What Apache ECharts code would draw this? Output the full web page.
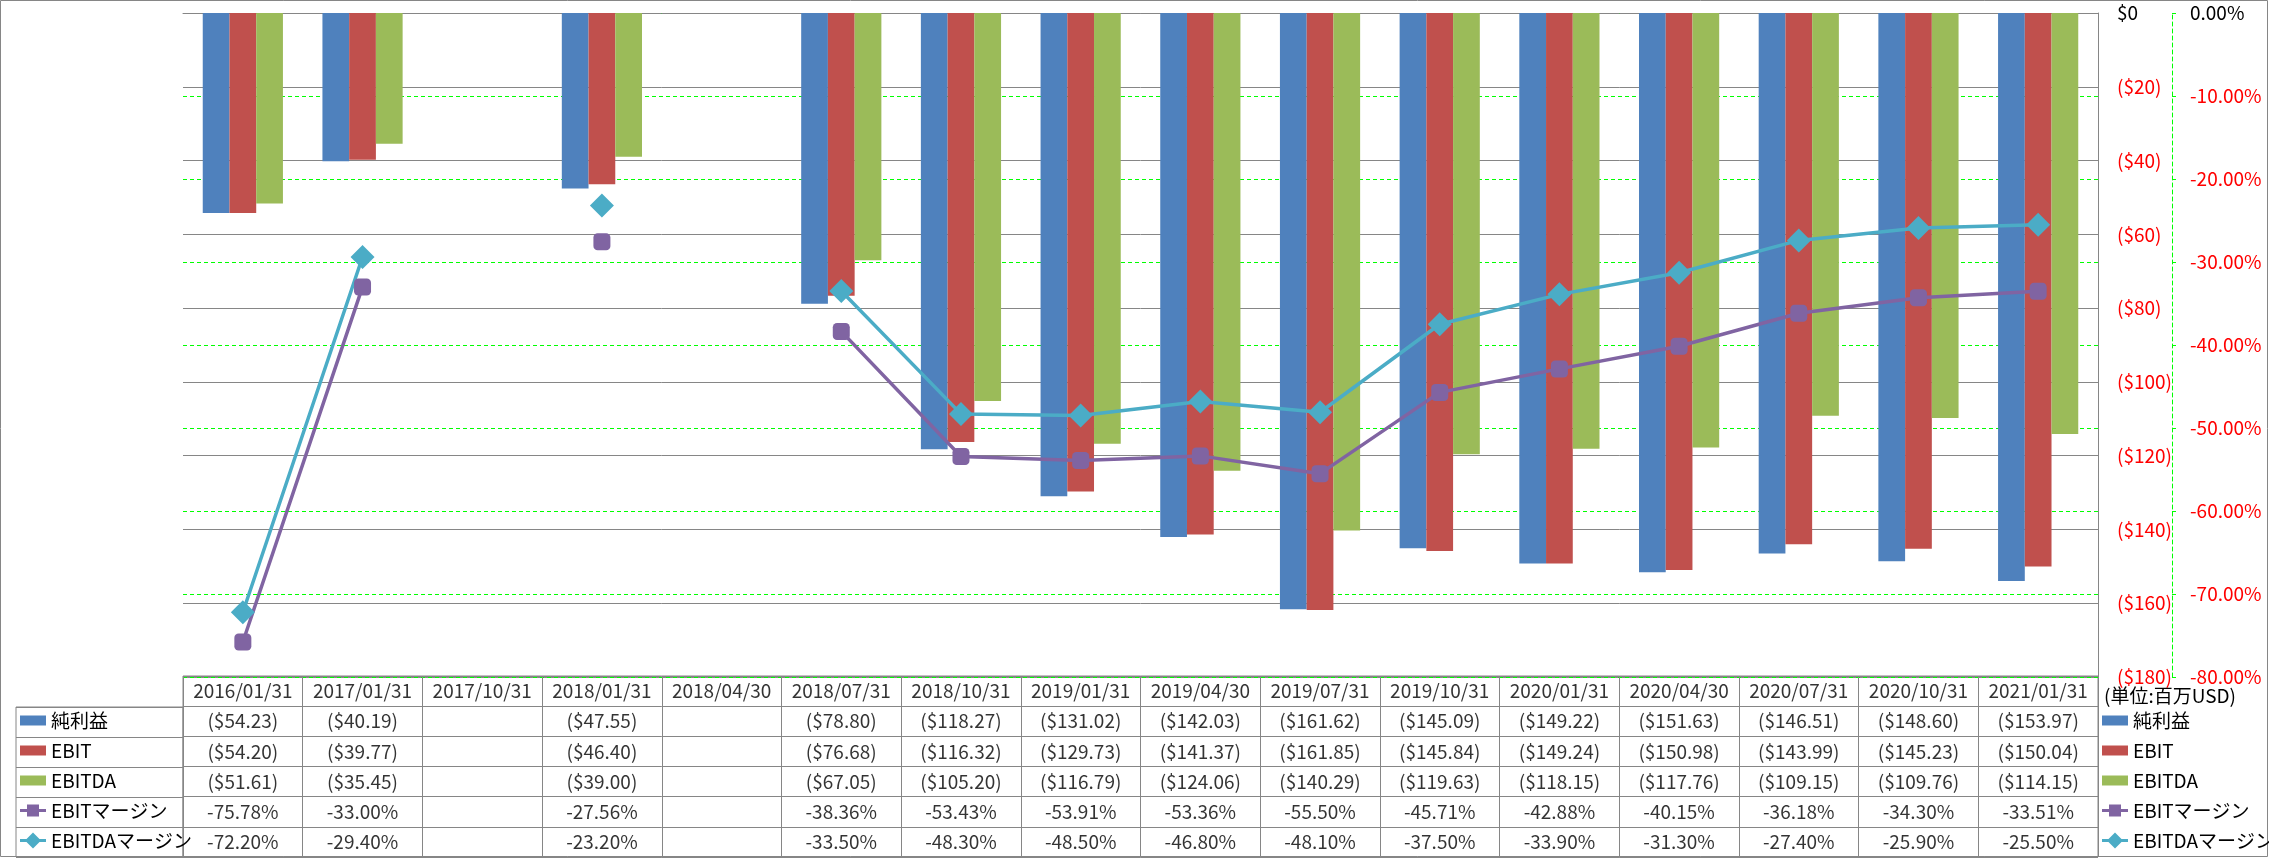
<!DOCTYPE html>
<html>
<head>
<meta charset="utf-8">
<script src="https://cdn.jsdelivr.net/npm/echarts@6/dist/echarts.min.js"></script>
<style>
  html, body { margin: 0; padding: 0; background: #fff; }
  #chart { width: 2269px; height: 858px; }
</style>
</head>
<body>
<div id="chart"></div>
<script>
// periods (fiscal quarter end)
const categories = ['2016/01/31', '2017/01/31', '2017/10/31', '2018/01/31', '2018/04/30', '2018/07/31',
  '2018/10/31', '2019/01/31', '2019/04/30', '2019/07/31', '2019/10/31', '2020/01/31', '2020/04/30',
  '2020/07/31', '2020/10/31', '2021/01/31'];

// millions USD
const netIncome = [-54.23, -40.19, null, -47.55, null, -78.80, -118.27, -131.02, -142.03, -161.62,
  -145.09, -149.22, -151.63, -146.51, -148.60, -153.97];
const ebit = [-54.20, -39.77, null, -46.40, null, -76.68, -116.32, -129.73, -141.37, -161.85,
  -145.84, -149.24, -150.98, -143.99, -145.23, -150.04];
const ebitda = [-51.61, -35.45, null, -39.00, null, -67.05, -105.20, -116.79, -124.06, -140.29,
  -119.63, -118.15, -117.76, -109.15, -109.76, -114.15];

// percent
const ebitMargin = [-75.78, -33.00, null, -27.56, null, -38.36, -53.43, -53.91, -53.36, -55.50,
  -45.71, -42.88, -40.15, -36.18, -34.30, -33.51];
const ebitdaMargin = [-72.20, -29.40, null, -23.20, null, -33.50, -48.30, -48.50, -46.80, -48.10,
  -37.50, -33.90, -31.30, -27.40, -25.90, -25.50];

const seriesNames = ['純利益', 'EBIT', 'EBITDA', 'EBITマージン', 'EBITDAマージン'];
const unitText = '(単位:百万USD)';

const FONT = '"Liberation Sans Narrow", "Noto Sans CJK JP", sans-serif';
const GRAY = '#868686';
const RED = '#FF0000';
const GREEN = '#00FF00';

function money(v) { return v == null ? '' : '($' + Math.abs(v).toFixed(2) + ')'; }
function pct(v) { return v == null ? '' : v.toFixed(2) + '%'; }

// cells of the data table: [column, row, text]
const cells = [];
categories.forEach(function (c, i) {
  cells.push([i, 0, c]);
  cells.push([i, 1, money(netIncome[i])]);
  cells.push([i, 2, money(ebit[i])]);
  cells.push([i, 3, money(ebitda[i])]);
  cells.push([i, 4, pct(ebitMargin[i])]);
  cells.push([i, 5, pct(ebitdaMargin[i])]);
});

// legend keys: plain box for bars, thick line + marker for the margin lines
const barKey = 'path://M0,0H26V10H0Z';
const squareKey = 'path://M0,5.5H7V1H19V5.5H26V8.5H19V13H7V8.5H0Z';
const diamondKey = 'path://M0,5.5H6.5L13,-1L19.5,5.5H26V8.5H19.5L13,15L6.5,8.5H0Z';
const legendData = [
  { name: seriesNames[0], icon: barKey },
  { name: seriesNames[1], icon: barKey },
  { name: seriesNames[2], icon: barKey },
  { name: seriesNames[3], icon: squareKey },
  { name: seriesNames[4], icon: diamondKey }
];
const legendBase = {
  orient: 'vertical',
  top: 710,
  padding: 0,
  itemWidth: 26,
  itemHeight: 16,
  itemGap: 9,
  selectedMode: false,
  textStyle: { fontFamily: FONT, fontSize: 19, color: '#000', lineHeight: 21 },
  data: legendData
};

const chart = echarts.init(document.getElementById('chart'));
chart.setOption({
  animation: false,
  color: ['#4F81BD', '#C0504D', '#9BBB59', '#8064A2', '#4BACC6'],
  textStyle: { fontFamily: FONT },
  title: {
    text: unitText,
    left: 2104,
    top: 686,
    padding: 0,
    textStyle: { fontFamily: FONT, fontSize: 19, fontWeight: 'normal', color: '#000' }
  },
  legend: [
    Object.assign({ left: 20 }, legendBase),
    Object.assign({ left: 2102 }, legendBase)
  ],
  graphic: [{
    type: 'rect',
    silent: true,
    shape: { x: 0.5, y: 0.5, width: 2267, height: 856 },
    style: { fill: 'none', stroke: GRAY, lineWidth: 1 }
  }],
  grid: [
    { left: 183, right: 171, top: 13, bottom: 181, outerBoundsMode: 'none' },
    { left: 183, right: 171, top: 676, height: 181, show: true, borderColor: GRAY, borderWidth: 1, outerBoundsMode: 'none' },
    { left: 16, width: 167, top: 707, height: 150, show: true, borderColor: GRAY, borderWidth: 1, outerBoundsMode: 'none' }
  ],
  xAxis: [
    {
      type: 'category', gridIndex: 0, data: categories,
      axisLine: { show: true, onZero: true, lineStyle: { color: GRAY } },
      axisTick: { show: false }, axisLabel: { show: false }
    },
    {
      type: 'category', gridIndex: 1, data: categories,
      axisLine: { show: false }, axisTick: { show: false }, axisLabel: { show: false },
      splitLine: { show: true, interval: 0, lineStyle: { color: GRAY } }
    },
    {
      type: 'category', gridIndex: 2, data: [''],
      axisLine: { show: false }, axisTick: { show: false }, axisLabel: { show: false }
    }
  ],
  yAxis: [
    {
      type: 'value', gridIndex: 0, position: 'right', min: -180, max: 0, interval: 20,
      axisLine: { show: true, lineStyle: { color: GRAY } },
      axisTick: { show: false },
      splitLine: { show: true, lineStyle: { color: GRAY, width: 1 } },
      axisLabel: {
        margin: 19, fontSize: 19, fontFamily: FONT,
        color: function (v) { return Number(v) === 0 ? '#000' : RED; },
        formatter: function (v) { return v === 0 ? '$0' : '($' + Math.abs(v) + ')'; }
      }
    },
    {
      type: 'value', gridIndex: 0, position: 'right', offset: 74, min: -80, max: 0, interval: 10,
      axisLine: { show: true, lineStyle: { color: GREEN, type: [4, 3] } },
      axisTick: { show: true, length: 4, lineStyle: { color: GREEN } },
      splitLine: { show: true, lineStyle: { color: GREEN, type: [4, 3], width: 1 } },
      axisLabel: {
        margin: 18, fontSize: 19, fontFamily: FONT,
        color: function (v) { return Number(v) === 0 ? '#000' : RED; },
        formatter: function (v) { return v.toFixed(2) + '%'; }
      }
    },
    {
      type: 'category', gridIndex: 1, inverse: true, data: [0, 1, 2, 3, 4, 5],
      axisLine: { show: false }, axisTick: { show: false }, axisLabel: { show: false },
      splitLine: { show: true, interval: 0, lineStyle: { color: GRAY } }
    },
    {
      type: 'category', gridIndex: 2, inverse: true, data: [1, 2, 3, 4, 5],
      axisLine: { show: false }, axisTick: { show: false }, axisLabel: { show: false },
      splitLine: { show: true, interval: 0, lineStyle: { color: GRAY } }
    }
  ],
  series: [
    { name: seriesNames[0], type: 'bar', data: netIncome, barGap: '0%', barCategoryGap: '33%' },
    { name: seriesNames[1], type: 'bar', data: ebit, barGap: '0%', barCategoryGap: '33%' },
    { name: seriesNames[2], type: 'bar', data: ebitda, barGap: '0%', barCategoryGap: '33%' },
    {
      name: seriesNames[3], type: 'line', yAxisIndex: 1, data: ebitMargin,
      symbol: 'roundRect', symbolSize: 17, showAllSymbol: true,
      lineStyle: { width: 3.5 }
    },
    {
      name: seriesNames[4], type: 'line', yAxisIndex: 1, data: ebitdaMargin,
      symbol: 'diamond', symbolSize: 24, showAllSymbol: true,
      lineStyle: { width: 3.5 }
    },
    {
      type: 'scatter', xAxisIndex: 1, yAxisIndex: 2, data: cells,
      silent: true, symbolSize: 1,
      itemStyle: { color: 'transparent' },
      label: {
        show: true, position: 'inside', color: '#000', fontSize: 19, fontFamily: FONT,
        formatter: function (p) { return p.data[2]; }
      }
    }
  ]
});
</script>
</body>
</html>
